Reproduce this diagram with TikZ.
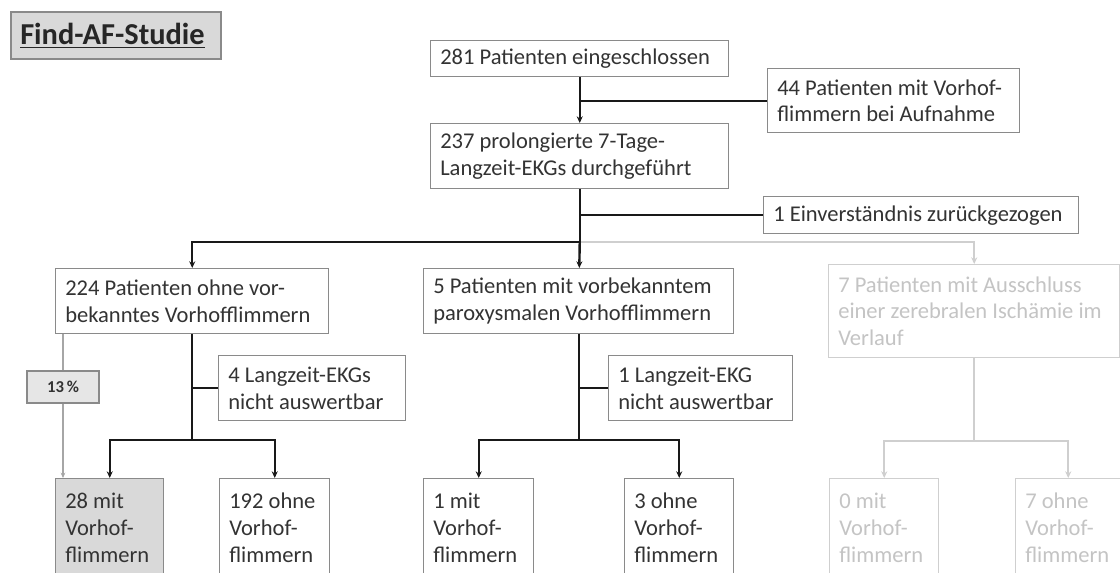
\documentclass[tikz,border=0pt]{standalone}
\usepackage{fontspec}
\setmainfont{Carlito}
\usetikzlibrary{arrows.meta}
\definecolor{txtc}{HTML}{333333}
\definecolor{bord}{HTML}{8A8A8A}
\definecolor{lg}{HTML}{CFCFCF}
\definecolor{lgt}{HTML}{C4C4C4}
\definecolor{fillg}{HTML}{D9D9D9}
\definecolor{fillp}{HTML}{E6E6E6}
% name, x1, y1, x2, y2, box style, text style, text
\newcommand\mkbox[8]{%
  \pgfmathsetmacro\bw{(#4-#2)*0.75}%
  \pgfmathsetmacro\bh{(#5-#3)*0.75}%
  \node[boxst,#6,anchor=north west,minimum width=\bw pt,minimum height=\bh pt] (#1) at (#2,#3) {};%
  \node[txtst,#7,anchor=west] (#1t) at ([xshift=7.5pt]#1.west) {#8};%
}
\begin{document}
\begin{tikzpicture}[x=0.75pt,y=-0.75pt,
  boxst/.style={draw=bord,line width=1.1pt,inner sep=0pt},
  txtst/.style={text=txtc,align=left,inner sep=0pt,font=\fontsize{16.9pt}{20pt}\selectfont},
  graybox/.style={draw=lg},
  graytxt/.style={text=lgt},
  conn/.style={line width=1.8pt,draw=black!90},
  gconn/.style={line width=1.3pt,draw=lg},
  pconn/.style={line width=1pt,draw=black!35},
  arr/.style={-{Stealth[length=5pt,width=4.5pt]}},
  sarr/.style={-{Stealth[length=4pt,width=3.5pt]}},
]
\fill[white] (0,0) rectangle (1120,572);
\clip (0,0) rectangle (1120,572);

% title
\mkbox{title}{10}{11}{220}{58}{fill=fillg,line width=1.5pt}{text=black!85,font=\bfseries\fontsize{22.8pt}{26pt}\selectfont}{\underline{Find-AF-Studie}}

% boxes
\mkbox{b1}{430}{40}{728}{76}{}{}{281 Patienten eingeschlossen}
\mkbox{b2}{767}{68}{1019}{132}{}{}{44 Patienten mit Vorhof-\\flimmern bei Aufnahme}
\mkbox{b3}{430}{123}{728}{188}{}{}{237 prolongierte 7-Tage-\\Langzeit-EKGs durchgeführt}
\mkbox{b4}{763}{196}{1078}{233}{}{}{1 Einverständnis zurückgezogen}
\mkbox{b5}{55}{268}{328}{333}{}{}{224 Patienten ohne vor-\\bekanntes Vorhofflimmern}
\mkbox{b6}{423}{268}{733}{333}{}{}{5 Patienten mit vorbekanntem\\paroxysmalen Vorhofflimmern}
\mkbox{b7}{828}{264}{1119}{357}{graybox}{graytxt}{7 Patienten mit Ausschluss\\einer zerebralen Ischämie im\\Verlauf}
\mkbox{b8}{218}{355}{405}{420}{}{}{4 Langzeit-EKGs\\nicht auswertbar}
\mkbox{b11}{608}{355}{792}{420}{}{}{1 Langzeit-EKG\\nicht auswertbar}
\mkbox{b9}{55}{478}{163}{576}{fill=fillg}{}{28 mit\\Vorhof-\\flimmern}
\mkbox{b10}{219}{478}{329}{576}{}{}{192 ohne\\Vorhof-\\flimmern}
\mkbox{b12}{423}{478}{533}{576}{}{}{1 mit\\Vorhof-\\flimmern}
\mkbox{b13}{624}{478}{733}{576}{}{}{3 ohne\\Vorhof-\\flimmern}
\mkbox{b14}{829}{478}{938}{576}{graybox}{graytxt}{0 mit\\Vorhof-\\flimmern}
\mkbox{b15}{1015}{478}{1120}{576}{graybox}{graytxt}{7 ohne\\Vorhof-\\flimmern}

% percentage box
\node[boxst,fill=fillp,minimum width=54pt,minimum height=24pt,text=txtc,
      font=\bfseries\fontsize{12.5pt}{14pt}\selectfont] (pct) at (63,387) {13\,\%};

% top connectors
\draw[conn,arr] (b1) -- (b3);
\draw[conn] (b1.south |- b2.west) -- (b2.west);
\coordinate (sp1) at (b3.south |- 0,242);
\draw[gconn,arr] (sp1) -| (b7);
\draw[conn] (b3) -- (sp1);
\draw[conn] (b3.south |- b4.west) -- (b4.west);
\draw[conn,arr] (sp1) -| (b5);
\draw[conn,arr] (sp1) -- (b6);

% left subtree
\coordinate (sp2) at (b5.south |- 0,440);
\draw[conn] (b5) -- (sp2);
\draw[conn] (b5.south |- b8.west) -- (b8.west);
\draw[conn,arr] (sp2) -| (b9);
\draw[conn,arr] (sp2) -| (b10);
\draw[pconn] (b5.south -| pct) -- (pct);
\draw[pconn,sarr] (pct) -- (b9.north -| pct);

% middle subtree
\coordinate (sp3) at (b6.south |- 0,440);
\draw[conn] (b6) -- (sp3);
\draw[conn] (b6.south |- b11.west) -- (b11.west);
\draw[conn,arr] (sp3) -| (b12);
\draw[conn,arr] (sp3) -| (b13);

% right subtree (gray)
\coordinate (sp4) at (b7.south |- 0,441);
\draw[gconn] (b7) -- (sp4);
\draw[gconn,arr] (sp4) -| (b14);
\draw[gconn,arr] (sp4) -| (b15);
\end{tikzpicture}
\end{document}
